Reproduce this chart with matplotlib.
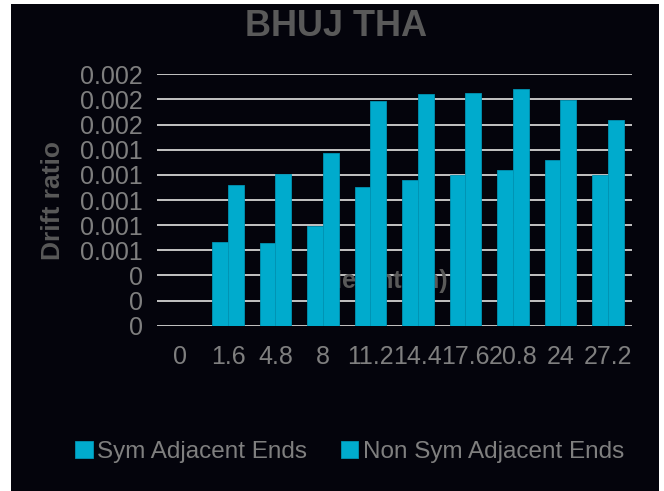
import matplotlib
matplotlib.use("Agg")
import matplotlib.pyplot as plt
from matplotlib.patches import Rectangle, Patch
from matplotlib.ticker import FixedLocator, FixedFormatter
import numpy as np

plt.rcParams['font.family'] = ['Liberation Sans', 'DejaVu Sans']

heights = ["0", "1.6", "4.8", "8", "11.2", "14.4", "17.6", "20.8", "24", "27.2"]
sym_adjacent = [0.0, 0.000668, 0.000658, 0.000791, 0.001103, 0.001156, 0.001201, 0.001236, 0.001321, 0.001199]
non_sym_adjacent = [0.0, 0.001119, 0.001207, 0.001371, 0.001787, 0.001846, 0.001849, 0.001886, 0.001796, 0.001636]
y_ticks = [0.0, 0.0002, 0.0004, 0.0006, 0.0008, 0.001, 0.0012, 0.0014, 0.0016, 0.0018, 0.002]
y_tick_labels = ["0", "0", "0", "0.001", "0.001", "0.001", "0.001", "0.001", "0.002", "0.002", "0.002"]
series_names = ["Sym Adjacent Ends", "Non Sym Adjacent Ends"]

W, H = 664, 491
fig = plt.figure(figsize=(W / 100, H / 100), dpi=100)
fig.patch.set_facecolor('white')
bg = '#04040C'
fig.patches.append(Rectangle((11 / W, 0), (659 - 11) / W, (H - 4) / H,
                             transform=fig.transFigure, facecolor=bg, edgecolor='none', zorder=-10))

left, right = 156.7 / W, 631.7 / W
bottom, top = (H - 325.7) / H, (H - 74.3) / H
ax = fig.add_axes([left, bottom, right - left, top - bottom])
ax.set_facecolor('none')

bar_color = '#00ABCD'
edge = '#0093B3'
x = np.arange(len(heights))
w = 1 / 3
ax.bar(x - w / 2, sym_adjacent, width=w, color=bar_color, edgecolor=edge, linewidth=0.6, zorder=3)
ax.bar(x + w / 2, non_sym_adjacent, width=w, color=bar_color, edgecolor=edge, linewidth=0.6, zorder=3)

ax.set_xlim(-0.5, len(heights) - 0.5)
ax.set_ylim(0, 0.002)
ax.yaxis.set_major_locator(FixedLocator(y_ticks))
ax.yaxis.set_major_formatter(FixedFormatter(y_tick_labels))
ax.set_xticks(x)
ax.set_xticklabels(heights)
ax.grid(axis='y', color='#C4C4C4', linewidth=1.4, zorder=1)
ax.set_axisbelow(True)
for s in ax.spines.values():
    s.set_visible(False)
ax.tick_params(axis='both', length=0, labelsize=18, labelcolor='#7F7F7F')
ax.tick_params(axis='y', pad=10)
ax.tick_params(axis='x', pad=14)

# hidden x-axis title behind bars
ax.text(386 / W, 1 - 281 / H, "Height (m)", transform=fig.transFigure, ha='center', va='center',
        fontsize=18, fontweight='bold', color='#595959', zorder=2)

fig.text(336 / W, 1 - 26 / H, "BHUJ THA", ha='center', va='center', fontsize=26,
         fontweight='bold', color='#595959')
fig.text(53 / W, 1 - 200 / H, "Drift ratio", ha='center', va='center', rotation=90,
         fontsize=19, fontweight='bold', color='#595959')

handles = [Patch(facecolor=bar_color, edgecolor=edge, linewidth=0.6) for _ in series_names]
leg = fig.legend(handles, series_names, loc='center', bbox_to_anchor=(350 / W, 1 - 452 / H), ncol=2,
                 frameon=False, fontsize=17.5, handlelength=0.7, handleheight=0.7,
                 handletextpad=0.2, columnspacing=1.4, labelcolor='#7F7F7F')

fig.savefig("out.png", dpi=100, facecolor=fig.get_facecolor())
